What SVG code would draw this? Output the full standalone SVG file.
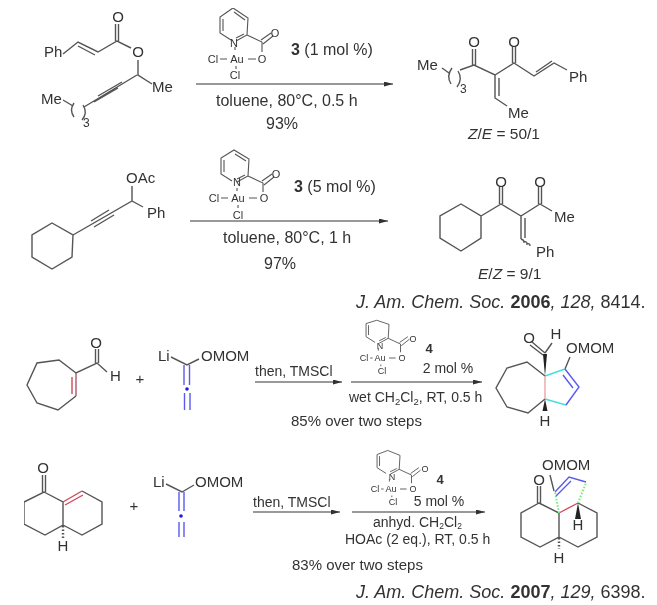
<svg xmlns="http://www.w3.org/2000/svg" width="657" height="605" viewBox="0 0 657 605">
<style>
text{font-family:"Liberation Sans",Arial,sans-serif;fill:#333}
.a{font-size:15px}.r{font-size:16px}.q{font-size:15.500px}.s{font-size:14px}.y{font-size:15px}.c{font-size:12px}.k{font-size:11px}
.m{text-anchor:middle}
.b{font-weight:bold}.i{font-style:italic}.j{font-size:18px}
path{fill:none;stroke:#555;stroke-width:1.400}
.red{stroke:#cf4a58}.pink{stroke:#e8a5a5}.blue{stroke:#5a5aee}.cy{stroke:#45dede}.gr{stroke:#70ee70;stroke-dasharray:1.500 1.700;stroke-width:2}
.w{fill:#222;stroke:none}
.cat path{stroke-width:1.100}
.ar{stroke:#777;stroke-width:1.400}
.h{fill:#333;stroke:none}
</style>
<defs>
<filter id="soft" x="0" y="0" width="100%" height="100%"><feGaussianBlur stdDeviation="0.35"/></filter>
<marker id="ah" markerUnits="userSpaceOnUse" markerWidth="10" markerHeight="7" refX="9" refY="2.500" orient="auto"><path class="h" d="M0 0L9 2.500L0 5Z"/></marker>
</defs>
<rect width="657" height="605" fill="#fff"/>
<g filter="url(#soft)">
<g id="connectors">
<path class="ar" marker-end="url(#ah)" d="M196 84H393"/>
<path class="ar" marker-end="url(#ah)" d="M190 221H388"/>
<path class="ar" marker-end="url(#ah)" d="M255 382H342"/>
<path class="ar" marker-end="url(#ah)" d="M351 382H482"/>
<path class="ar" marker-end="url(#ah)" d="M253 512H340"/>
<path class="ar" marker-end="url(#ah)" d="M352 512H485"/>
</g>

<g id="substrate-1">
<path d="M63 54L78 42L98 52L117 41L131 48M78 46L95 55M115.500 41V24M118.500 41V24M138 60V75L152 84M137 75L84 107M122 82L98 96M118 88L94 102M63 100L73 106"/>
<path d="M74 103Q69 110 74 117M83 105Q88 113 82 120"/>
<text class="a" x="44" y="57">Ph</text><text class="a m" x="118" y="22">O</text><text class="a m" x="138" y="57">O</text><text class="a" x="152" y="92">Me</text><text class="a" x="41" y="104">Me</text><text class="c" x="83" y="127">3</text>
</g>

<g id="catalyst-1" class="cat" transform="translate(237 59)">
<path d="M-6 -19L-17 -26V-42L-4 -51L11 -41L10 -24L-1 -18M-14 -28V-40M-3 -47L8 -39M7 -25L-1 -21M10 -24L25 -17V-7M24 -19L34 -26M26 -15L36 -23M-17 0H-10M11 0H19M-2 -12V-9M-1 7V10"/>
<text class="k m" x="-3" y="-12">N</text><text class="k m" x="0" y="4">Au</text><text class="k m" x="25" y="4">O</text><text class="k m" x="38" y="-22">O</text><text class="k m" x="-24" y="4">Cl</text><text class="k m" x="-2" y="20">Cl</text>
</g>
<g id="label-1">
<text class="r" x="291" y="55"><tspan class="b">3</tspan> (1 mol %)</text>
<text class="r" x="216" y="106">toluene, 80°C, 0.5 h</text>
<text class="r m" x="282" y="129">93%</text>
</g>

<g id="product-1">
<path d="M442 68L449 73M460 70L474 65L495 75L514 63L534 76L554 63L567 70M536 72L552 61M472.500 65V49M475.500 65V49M512.500 63V47M515.500 63V47M495 75V98L507 106M499 78V96"/>
<path d="M452 68Q446 76 451 84M458 71Q463 79 457 87"/>
<text class="a m" x="474" y="47">O</text><text class="a m" x="514" y="47">O</text><text class="a" x="417" y="70">Me</text><text class="c" x="460" y="93">3</text><text class="a" x="569" y="82">Ph</text><text class="a" x="508" y="118">Me</text>
<text class="q" x="468" y="139"><tspan class="i">Z</tspan>/<tspan class="i">E</tspan> = 50/1</text>
</g>

<g id="substrate-2">
<path d="M52 223L73 235L72 257L52 269L32 257V235ZM73 235L132 201L143 207M132 201V186M91 221L109 210M94 227L114 215"/>
<text class="a" x="126" y="183">OAc</text><text class="a" x="147" y="218">Ph</text>
</g>

<g id="catalyst-2" class="cat" transform="translate(238 198)">
<path transform="translate(0 2)" d="M-6 -19L-17 -26V-42L-4 -50L11 -41L10 -24L-1 -18M-14 -28V-40M-3 -46L8 -39M7 -25L-1 -21M10 -24L25 -17V-8M24 -19L34 -26M26 -15L36 -23"/>
<path d="M-17 0H-10M11 0H19M-1 -10V-7M0 7V10"/>
<text class="k m" x="-1" y="-12">N</text><text class="k m" x="0" y="4">Au</text><text class="k m" x="26" y="4">O</text><text class="k m" x="38" y="-20">O</text><text class="k m" x="-24" y="4">Cl</text><text class="k m" x="0" y="21">Cl</text>
</g>
<g id="label-2">
<text class="r" x="294" y="192"><tspan class="b">3</tspan> (5 mol %)</text>
<text class="r" x="223" y="243">toluene, 80°C, 1 h</text>
<text class="r m" x="280" y="269">97%</text>
</g>

<g id="product-2">
<path d="M461 204L481 216V238L461 251L440 238V216ZM481 216L501 204L521 216L540 204L552 211M499.500 204V187M502.500 204V187M538.500 204V187M541.500 204V187M521 216V239M525 218V238"/>
<path d="M521 239Q524 240 524 242Q527 241 527 244Q530 243 530 246"/>
<text class="a m" x="501" y="187">O</text><text class="a m" x="540" y="187">O</text><text class="a" x="554" y="222">Me</text><text class="a" x="536" y="257">Ph</text>
<text class="q" x="478" y="279"><tspan class="i">E</tspan>/<tspan class="i">Z</tspan> = 9/1</text>
</g>
<text id="ref-1" class="j" x="356" y="308"><tspan class="i">J. Am. Chem. Soc. </tspan><tspan class="b">2006</tspan><tspan class="i">, 128,</tspan> 8414.</text>

<g id="substrate-3">
<path d="M76 396L58 410L37 403L27 385L37 363L59 360L76 373L97 363L107 372M95.500 363V349M98.500 363V349"/>
<path style="stroke:#a85a68" d="M76 373V396"/><path style="stroke:#e0707c;stroke-width:1.800" d="M72 377V394"/>
<text class="a m" x="96" y="348">O</text><text class="a" x="110" y="381">H</text>
</g>
<text id="plus-1" class="a m" x="140" y="384">+</text>
<g id="allene-1">
<path d="M171 357L187 365L199 359"/><path class="blue" d="M184 365V385M189.500 365V385M184.500 393V410M190 393V410"/><circle cx="187" cy="389" r="1.800" fill="#1a1ae0"/>
<text class="a" x="158" y="361">Li</text><text class="a" x="201" y="361">OMOM</text>
</g>
<g id="catalyst-3" class="cat" transform="translate(380 358)">
<path transform="scale(.82)" d="M-6 -19L-17 -26V-42L-4 -46L11 -41L10 -24L-1 -18M-14 -28V-40M7 -25L-1 -21M10 -24L25 -17V-7M24 -19L34 -26M26 -15L36 -23M-12 0H-9M11 0H19M-2 -12V-9M1 8V10"/>
<text font-size="9" class="m" x="0" y="-9">N</text><text font-size="9" class="m" x="0" y="3">Au</text><text font-size="9" class="m" x="22" y="3">O</text><text font-size="9" class="m" x="33" y="-16">O</text><text font-size="9" class="m" x="-16" y="3">Cl</text><text font-size="9" class="m" x="2" y="16">Cl</text>
</g>
<g id="label-3">
<text class="m b" x="429" y="353" style="font-size:13px">4</text>
<text class="s m" x="448" y="373">2 mol %</text>
<text class="s" x="255" y="376">then, TMSCl</text>
<text class="s" x="349" y="402">wet CH<tspan font-size="9.500" dy="3">2</tspan><tspan dy="-3">Cl</tspan><tspan font-size="9.500" dy="3">2</tspan><tspan dy="-3">, RT, 0.5 h</tspan></text>
<text class="y" x="291" y="426">85% over two steps</text>
</g>
<g id="product-3">
<path d="M545 376L527 362L507 368L496 388L507 407L528 413L545 399M565 369L570 357M545 353L532 342M543 355L530 345M545 353L552 343"/>
<path class="pink" d="M545 376V399"/><path class="cy" d="M545 376L565 369M545 399L566 405"/>
<path class="blue" d="M565 369L579 387L566 405M563 375L573 388"/>
<path class="w" d="M545 376L543 354H547Z"/><path class="w" d="M545 399L547.500 411H542.500Z"/>
<text class="a m" x="529" y="343">O</text><text class="a m" x="556" y="339">H</text><text class="a" x="566" y="353">OMOM</text><text class="a m" x="545" y="426">H</text>
</g>

<g id="substrate-4">
<path d="M44 492L63 502V525L45 535L24 524V502ZM63 525L82 535L102 524V502L82 491M42.500 492V475M45.500 492V475"/>
<path class="red" d="M63 502L82 491M65 505L83 495"/>
<path stroke-dasharray="1.500 2" style="stroke-width:2.500" d="M63 526V538"/>
<text class="a m" x="43" y="473">O</text><text class="a m" x="63" y="551">H</text>
</g>
<text id="plus-2" class="a m" x="134" y="511">+</text>
<g id="allene-2">
<path d="M166 484L182 492L194 485"/><path class="blue" d="M179 492V511M184 492V511M179 522V537M184 522V537"/><circle cx="181" cy="516" r="1.800" fill="#1a1ae0"/>
<text class="a" x="153" y="487">Li</text><text class="a" x="195" y="487">OMOM</text>
</g>
<g id="catalyst-4" class="cat" transform="translate(391 489)">
<path transform="scale(.82)" d="M-6 -19L-17 -26V-42L-4 -47L11 -41L10 -24L-1 -18M-14 -28V-40M7 -25L-1 -21M10 -24L25 -17V-7M24 -19L34 -26M26 -15L36 -23M-12 0H-9M11 0H19M-2 -12V-9M1 8V10"/>
<text font-size="9" class="m" x="1" y="-9">N</text><text font-size="9" class="m" x="0" y="3">Au</text><text font-size="9" class="m" x="22" y="3">O</text><text font-size="9" class="m" x="34" y="-17">O</text><text font-size="9" class="m" x="-16" y="3">Cl</text><text font-size="9" class="m" x="2" y="16">Cl</text>
</g>
<g id="label-4">
<text class="m b" x="440" y="484" style="font-size:13px">4</text>
<text class="s m" x="439" y="506">5 mol %</text>
<text class="s" x="253" y="507">then, TMSCl</text>
<text class="s" x="373" y="527">anhyd. CH<tspan font-size="8.500" dy="2">2</tspan><tspan dy="-2">Cl</tspan><tspan font-size="8.500" dy="2">2</tspan></text>
<text class="s" x="345" y="544">HOAc (2 eq.), RT, 0.5 h</text>
<text class="y" x="292" y="570">83% over two steps</text>
</g>
<g id="product-4">
<path d="M539 503L559 513V537L540 547L521 537V513ZM559 537L578 547L597 537V513L578 503M537.500 503V486M540.500 503V486M550 475L554 491"/>
<path class="red" d="M559 513L578 503"/>
<path class="gr" d="M559 513L555 492M578 503L586 483"/>
<path class="blue" d="M555 492L569 477L586 482M556 496L571 481"/>
<path class="w" d="M578 503L581 519H575Z"/>
<path stroke-dasharray="1.500 2" style="stroke-width:2.500" d="M559 538V549"/>
<text class="a m" x="539" y="485">O</text><text class="a" x="542" y="470">OMOM</text><text class="a m" x="578" y="530">H</text><text class="a m" x="559" y="563">H</text>
</g>
<text id="ref-2" class="j" x="356" y="598"><tspan class="i">J. Am. Chem. Soc. </tspan><tspan class="b">2007</tspan><tspan class="i">, 129,</tspan> 6398.</text>
</g>
</svg>
